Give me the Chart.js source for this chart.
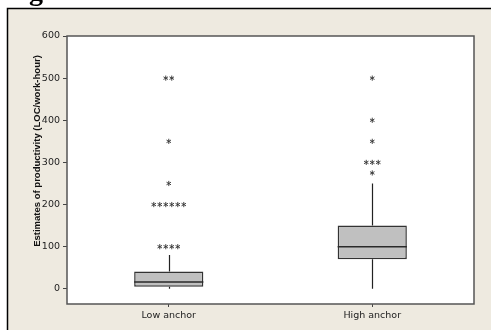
<!DOCTYPE html>
<html>
<head>
<meta charset="utf-8">
<script src="https://cdn.jsdelivr.net/npm/chart.js@4/dist/chart.umd.min.js"></script>
<style>
  html, body { margin: 0; padding: 0; background: #ffffff; }
  #wrap { position: relative; width: 491px; height: 330px; overflow: hidden; }
  #fig { position: absolute; left: 4px; top: -23px; font: bold 28px 'Liberation Serif', serif; line-height: 28px; color: #000; white-space: nowrap; }
  canvas { position: absolute; left: 0; top: 0; }
</style>
</head>
<body>
<div id="wrap">
  <canvas id="c" width="491" height="330"></canvas>
  <div id="fig">Figure</div>
</div>
<script>
// ---- data ----
const categories = ['Low anchor', 'High anchor'];
const q1 = [5, 70];
const median = [16, 100];
const q3 = [41, 150];
const whiskerLow = [0, 0];
const whiskerHigh = [80, 250];
const lowOutliers = [100, 100, 100, 100, 200, 200, 200, 200, 200, 200, 250, 350, 500, 500];
const highOutliers = [275, 300, 300, 300, 350, 400, 500];
const yTicks = [0, 100, 200, 300, 400, 500, 600];
const yTitle = 'Estimates of productivity (LOC/work-hour)';

const outliers = [lowOutliers, highOutliers];
const FONT = "'DejaVu Sans', sans-serif";

const boxPlugin = {
  id: 'boxparts',
  beforeDraw(chart) {
    const ctx = chart.ctx;
    ctx.save();
    ctx.fillStyle = '#EEEAE0';
    ctx.fillRect(0, 0, chart.width, chart.height);
    ctx.fillStyle = '#ffffff';
    ctx.fillRect(0, 0, chart.width, 8);
    ctx.fillRect(0, 0, 7, chart.height);
    ctx.strokeStyle = '#000';
    ctx.lineWidth = 1.5;
    ctx.beginPath();
    ctx.moveTo(7.5, chart.height + 2);
    ctx.lineTo(7.5, 8.5);
    ctx.lineTo(chart.width + 2, 8.5);
    ctx.stroke();
    const a = chart.chartArea;
    ctx.fillStyle = '#ffffff';
    ctx.fillRect(a.left, a.top, a.right - a.left, a.bottom - a.top);
    ctx.restore();
  },
  beforeDatasetsDraw(chart) {
    const ctx = chart.ctx;
    const xs = chart.scales.x, ys = chart.scales.y;
    ctx.save();
    ctx.strokeStyle = '#222';
    ctx.lineWidth = 1.2;
    categories.forEach((c, i) => {
      const x = Math.round(xs.getPixelForValue(i)) + 0.5;
      ctx.beginPath();
      ctx.moveTo(x, ys.getPixelForValue(q3[i]));
      ctx.lineTo(x, ys.getPixelForValue(whiskerHigh[i]));
      ctx.moveTo(x, ys.getPixelForValue(q1[i]));
      ctx.lineTo(x, ys.getPixelForValue(whiskerLow[i]));
      ctx.stroke();
    });
    ctx.restore();
  },
  afterDatasetsDraw(chart) {
    const ctx = chart.ctx;
    const xs = chart.scales.x, ys = chart.scales.y;
    const meta = chart.getDatasetMeta(0);
    ctx.save();
    // medians
    ctx.strokeStyle = '#2a2a2a';
    ctx.lineWidth = 1.5;
    meta.data.forEach((bar, i) => {
      const y = ys.getPixelForValue(median[i]);
      ctx.beginPath();
      ctx.moveTo(bar.x - bar.width / 2, y);
      ctx.lineTo(bar.x + bar.width / 2, y);
      ctx.stroke();
    });
    // outliers (asterisks), duplicates spread horizontally
    ctx.strokeStyle = '#333';
    ctx.lineWidth = 0.9;
    const spacing = 6, r = 2.6;
    const c30 = Math.cos(Math.PI / 6), s30 = 0.5;
    outliers.forEach((list, i) => {
      const counts = {};
      list.forEach(v => { counts[v] = (counts[v] || 0) + 1; });
      const cx = xs.getPixelForValue(i);
      Object.keys(counts).forEach(k => {
        const n = counts[k];
        const y = ys.getPixelForValue(Number(k));
        for (let j = 0; j < n; j++) {
          const x = cx + (j - (n - 1) / 2) * spacing;
          ctx.beginPath();
          ctx.moveTo(x, y - r); ctx.lineTo(x, y + r);
          ctx.moveTo(x - r * c30, y - r * s30); ctx.lineTo(x + r * c30, y + r * s30);
          ctx.moveTo(x - r * c30, y + r * s30); ctx.lineTo(x + r * c30, y - r * s30);
          ctx.stroke();
        }
      });
    });
    // plot frame
    const a = chart.chartArea;
    ctx.strokeStyle = '#555';
    ctx.lineWidth = 1.5;
    ctx.strokeRect(a.left, a.top, a.right - a.left, a.bottom - a.top);
    // y axis title
    ctx.fillStyle = '#111';
    ctx.font = "bold 9.5px 'Liberation Sans', sans-serif";
    ctx.textAlign = 'center';
    ctx.textBaseline = 'middle';
    ctx.translate(37, 151);
    ctx.rotate(-Math.PI / 2);
    ctx.fillText(yTitle, 0, 0);
    ctx.restore();
  }
};

new Chart(document.getElementById('c'), {
  type: 'bar',
  data: {
    labels: categories,
    datasets: [{
      data: q1.map((v, i) => [v, q3[i]]),
      backgroundColor: '#C0C0C0',
      borderColor: '#333333',
      borderWidth: 1.5,
      borderSkipped: false,
      barPercentage: 0.34,
      categoryPercentage: 1
    }]
  },
  options: {
    responsive: false,
    animation: false,
    events: [],
    layout: { padding: { left: 0, top: 36, right: 17, bottom: 0 } },
    plugins: { legend: { display: false }, tooltip: { enabled: false }, title: { display: false } },
    scales: {
      x: {
        type: 'category',
        offset: true,
        grid: { offset: false, drawOnChartArea: false, drawTicks: true, tickLength: 3, tickColor: '#444', lineWidth: 1 },
        border: { display: false },
        ticks: { color: '#222', font: { family: FONT, size: 9.5 }, padding: 3, maxRotation: 0 },
        afterFit(s) { s.height = 26; }
      },
      y: {
        min: -36,
        max: 600,
        grid: { drawOnChartArea: false, drawTicks: true, tickLength: 4, tickColor: '#444', lineWidth: 1 },
        border: { display: false },
        ticks: { color: '#222', font: { family: FONT, size: 9.5 }, padding: 3 },
        afterBuildTicks(s) { s.ticks = yTicks.map(v => ({ value: v })); },
        afterFit(s) { s.width = 67; }
      }
    }
  },
  plugins: [boxPlugin]
});
</script>
</body>
</html>
